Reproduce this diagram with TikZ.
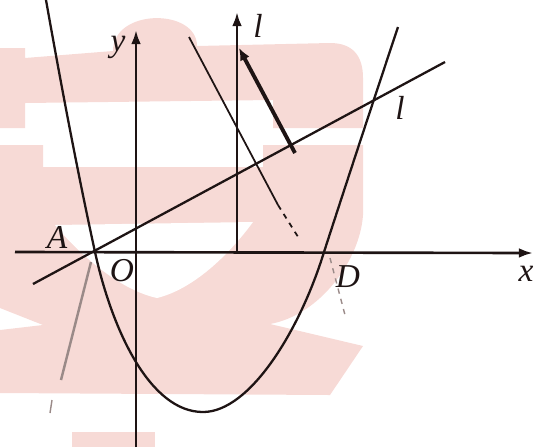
\documentclass[tikz,border=0pt]{standalone}
\usepackage{fontspec}
\setmainfont{Liberation Serif}
\usetikzlibrary{positioning, calc, arrows.meta}
\definecolor{Ink}{HTML}{1E1414}
\definecolor{Stamp}{HTML}{F7DAD6}
\definecolor{Pencil}{HTML}{9A8A88}
\tikzset{
    axis/.style={-{Latex[length=8pt,width=5.5pt]}, line width=1.5pt, color=Ink},
    curve/.style={line width=1.3pt, color=Ink},
    pencil/.style={line width=0.8pt, color=Pencil},
    lab/.style={font=\fontsize{19}{21}\selectfont\itshape, text=Ink, inner sep=1pt},
    stamp/.style={fill=Stamp, draw=none},
}

\begin{document}
\begin{tikzpicture}[x=0.02cm, y=-0.02cm]
    \useasboundingbox (0,0) rectangle (536,447);

    % Sfondo: filigrana rosa
    \fill[stamp] (0,48) -- (25,48) -- (25,58) -- (113,51) .. controls (113,8) and (197,8) .. (197,46) -- (330,43) .. controls (352,43) and (363,55) .. (363,78) -- (363,128) -- (273,128) -- (273,100) -- (25,103) -- (25,128) -- (0,128) -- cycle;
    \fill[stamp] (0,145) -- (43,145) -- (43,167) -- (263,167) -- (263,145) -- (363,145) -- (363,215) .. controls (360,260) and (320,315) .. (270,324) -- (363,346) -- (330,395) -- (0,393) -- (0,330) -- (43,325) -- (0,308) -- cycle;
    \fill[white] (55,225) -- (253,222) .. controls (225,260) and (190,290) .. (157,298) .. controls (120,290) and (80,255) .. (55,225) -- cycle;
    \fill[stamp] (72,432) rectangle (155,447);

    % Punti
    \coordinate (O) at (136,252);
    \coordinate (A) at (95,252);
    \coordinate (D) at (324,252);
    \coordinate (H) at (237,252);
    \coordinate (V) at (203,412);

    % Assi
    \draw[axis] (15,252) -- (533,253);
    \draw[axis] (136,447) -- (136,30);
    \draw[axis] (H) -- (237,12);

    % Parabola
    \draw[curve] (46,0) .. controls (62,90) and (78,174) .. (A)
        .. controls (112,330) and (150,412) .. (V)
        .. controls (250,412) and (300,330) .. (D)
        .. controls (348,178) and (373,102) .. (398,27);

    % Retta l
    \draw[curve] (33,284) -- (445,62);

    % Rette parallele
    \draw[curve, line width=1pt] (189,37) -- (278,205);
    \draw[curve, line width=1pt, dashed] (278,205) -- (300,240);
    \draw[curve, line width=2.2pt, {Latex[length=7pt,width=6pt]}-] (239,48) -- (295,153);

    % Tratti a matita
    \draw[pencil, line width=1.4pt] (91,262) -- (61,380);
    \draw[pencil] (52,400) -- (50,413);
    \draw[pencil, dashed] (330,258) -- (345,315);

    % Etichette
    \node[lab] (ylab) at (118,47) {y};
    \node[lab] (xlab) at (526,274) {x};
    \node[lab] (Alab) at (57,237) {A};
    \node[lab] (Olab) at (122,271) {O};
    \node[lab] (Dlab) at (348,277) {D};
    \node[lab] (llab) at (400,108) {l};
    \node[lab] (tlab) at (258,26) {l};
\end{tikzpicture}
\end{document}
